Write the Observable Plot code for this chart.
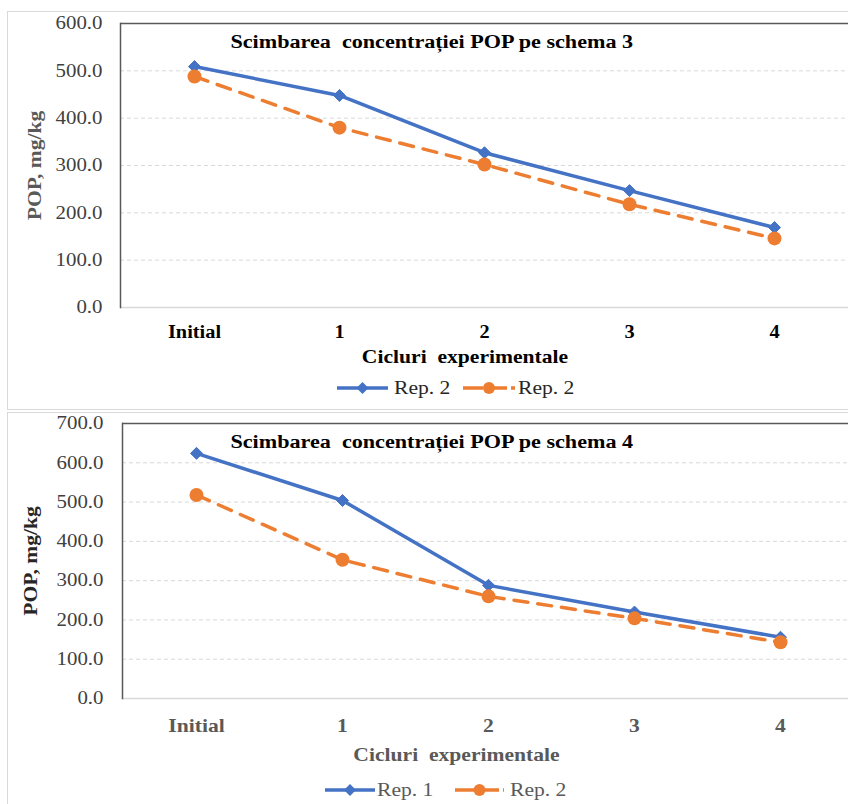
<!DOCTYPE html>
<html><head><meta charset="utf-8">
<script src="https://cdn.jsdelivr.net/npm/d3@7"></script>
<script src="https://cdn.jsdelivr.net/npm/@observablehq/plot@0.6"></script>
<style>
body{margin:0;background:#fff;}
#page{position:relative;width:848px;height:804px;overflow:hidden;font-family:"Liberation Serif","Times New Roman",serif;}
.box{position:absolute;left:7px;width:860px;border:1px solid #d9d9d9;box-sizing:border-box;}
.chart{position:absolute;left:0;}
.chart svg{white-space:pre;}
.legend{position:absolute;display:flex;align-items:center;height:20px;font-size:18px;}
.legend .lab{display:inline-block;transform:scaleX(1.2);transform-origin:left center;white-space:pre;}
</style></head><body><div id="page"></div>
<script>
// ---- data ----
const cycles = ["Initial", "1", "2", "3", "4"];
const yTitle = "POP, mg/kg";
const xTitle = "Cicluri  experimentale";

const s3Title = "Scimbarea  concentrației POP pe schema 3";
const s3Names = ["Rep. 2", "Rep. 2"];
const s3Rep1 = [509, 448, 327, 247, 169];
const s3Rep2 = [488, 380, 302, 218, 146];
const s3YTicks = [0, 100, 200, 300, 400, 500, 600];

const s4Title = "Scimbarea  concentrației POP pe schema 4";
const s4Names = ["Rep. 1", "Rep. 2"];
const s4Rep1 = [624, 504, 288, 220, 156];
const s4Rep2 = [518, 353, 260, 204, 143];
const s4YTicks = [0, 100, 200, 300, 400, 500, 600, 700];

const BLUE = "#4472C4", ORANGE = "#ED7D31";
const page = document.getElementById("page");

function addBox(top, height) {
  const b = document.createElement("div");
  b.className = "box"; b.style.top = top + "px"; b.style.height = height + "px";
  page.appendChild(b);
}

function chart(cfg) {
  const ymax = cfg.yTicks[cfg.yTicks.length - 1];
  const p = Plot.plot({
    width: 848, height: cfg.height,
    marginTop: cfg.mt, marginBottom: cfg.mb, marginLeft: cfg.ml, marginRight: cfg.mr,
    style: {fontFamily: "Liberation Serif, Times New Roman, serif", background: "transparent", overflow: "visible"},
    x: {type: "point", domain: cycles, padding: 0.5},
    y: {domain: [0, ymax]},
    marks: [
      Plot.ruleY(cfg.yTicks.filter(v => v > 0 && v < ymax), {stroke: "#d9d9d9", strokeWidth: 1, strokeDasharray: "4,3"}),
      Plot.ruleY([0], {stroke: "#d9d9d9", strokeWidth: 1.5}),
      Plot.ruleY([ymax], {stroke: "#595959", strokeWidth: 1.5}),
      Plot.frame({anchor: "left", stroke: "#595959", strokeWidth: 1.5}),
      Plot.axisY({ticks: cfg.yTicks, tickFormat: d => d.toFixed(1), tickSize: 0, tickPadding: cfg.yTickPad,
        fontSize: 18, color: "#404040", label: null}),
      Plot.axisX({tickSize: 0, tickPadding: cfg.xTickPad, fontSize: 18, fontWeight: "bold", color: cfg.xTickColor, label: null}),
      Plot.line(cycles, {x: d => d, y: (d, i) => cfg.rep1[i], stroke: BLUE, strokeWidth: 3.5}),
      Plot.dot(cycles, {x: d => d, y: (d, i) => cfg.rep1[i], symbol: "diamond2", r: 5.4, fill: BLUE, stroke: BLUE, strokeWidth: 1}),
      Plot.line(cycles, {x: d => d, y: (d, i) => cfg.rep2[i], stroke: ORANGE, strokeWidth: 3.5, strokeDasharray: "14,10"}),
      Plot.dot(cycles, {x: d => d, y: (d, i) => cfg.rep2[i], r: 7, fill: ORANGE, stroke: "none"}),
      Plot.text([cfg.title], {text: d => d, frameAnchor: "top-left", dx: cfg.titleDx, dy: cfg.titleDy, textAnchor: "start",
        lineAnchor: "middle", fontSize: 18, fontWeight: "bold", fill: "#000"}),
      Plot.text([yTitle], {text: d => d, frameAnchor: "left", dx: cfg.yTitleDx, rotate: -90, textAnchor: "middle",
        lineAnchor: "middle", fontSize: 18, fontWeight: "bold", fill: cfg.yTitleColor}),
      Plot.text([xTitle], {text: d => d, frameAnchor: "bottom", dx: cfg.xTitleDx, dy: cfg.xTitleDy, textAnchor: "middle",
        lineAnchor: "middle", fontSize: 18, fontWeight: "bold", fill: cfg.xTitleColor})
    ]
  });
  // the reference typeface is wider than Liberation Serif: widen glyphs about each text's anchor
  const byText = new Map([[cfg.title, 1.23], [yTitle, 1.2], [xTitle, 1.2]]);
  const byGroup = {"y-axis tick label": 1.16, "x-axis tick label": cfg.xTickStretch};
  p.querySelectorAll("text").forEach(t => {
    let f = byText.get(t.textContent);
    if (f === undefined) f = byGroup[t.parentNode.getAttribute("aria-label")] || 1;
    t.setAttribute("transform", (t.getAttribute("transform") || "") + ` scale(${f},1)`);
  });
  const wrap = document.createElement("div");
  wrap.className = "chart"; wrap.style.top = cfg.top + "px";
  wrap.appendChild(p);
  page.appendChild(wrap);

  // legend
  const lg = document.createElement("div");
  lg.className = "legend";
  lg.style.left = cfg.legendLeft + "px"; lg.style.top = cfg.legendTop + "px"; lg.style.color = cfg.legendColor;
  const sw = (w, kind) => {
    const ns = "http://www.w3.org/2000/svg";
    const s = document.createElementNS(ns, "svg");
    s.setAttribute("width", w); s.setAttribute("height", 16);
    const l = document.createElementNS(ns, "line");
    l.setAttribute("x1", 0); l.setAttribute("x2", w); l.setAttribute("y1", 8); l.setAttribute("y2", 8);
    l.setAttribute("stroke", kind === 0 ? BLUE : ORANGE); l.setAttribute("stroke-width", 3.5);
    if (kind === 1) l.setAttribute("stroke-dasharray", "20,4");
    s.appendChild(l);
    const c = w / 2;
    if (kind === 0) {
      const pg = document.createElementNS(ns, "polygon");
      pg.setAttribute("points", `${c},2 ${c + 6},8 ${c},14 ${c - 6},8`);
      pg.setAttribute("fill", BLUE); s.appendChild(pg);
    } else {
      const ci = document.createElementNS(ns, "circle");
      ci.setAttribute("cx", c); ci.setAttribute("cy", 8); ci.setAttribute("r", 6);
      ci.setAttribute("fill", ORANGE); s.appendChild(ci);
    }
    return s;
  };
  cfg.names.forEach((n, k) => {
    const s = sw(cfg.legendSw[k], k);
    s.style.marginLeft = cfg.legendGaps[k * 2] + "px";
    lg.appendChild(s);
    const sp = document.createElement("span");
    sp.className = "lab"; sp.textContent = n;
    sp.style.marginLeft = cfg.legendGaps[k * 2 + 1] + "px";
    sp.style.width = "58px";
    lg.appendChild(sp);
  });
  page.appendChild(lg);
}

addBox(11, 399);
addBox(412, 400);

chart({
  top: 0, height: 370, mt: 23, mb: 63, ml: 120, mr: 0,
  yTicks: s3YTicks, rep1: s3Rep1, rep2: s3Rep2, names: s3Names, title: s3Title,
  xTickPad: 18, yTickPad: 18, xTickColor: "#000", xTickStretch: 1.13,
  yTitleColor: "#595959", yTitleDx: -85,
  titleDx: 110, titleDy: 19, xTitleDx: -19.5, xTitleDy: 50, xTitleColor: "#000",
  legendLeft: 337, legendTop: 378, legendColor: "#262626", legendSw: [51, 52], legendGaps: [0, 6, 11, 3]
});

chart({
  top: 405, height: 365, mt: 18, mb: 72, ml: 122, mr: -6,
  yTicks: s4YTicks, rep1: s4Rep1, rep2: s4Rep2, names: s4Names, title: s4Title,
  xTickPad: 21, yTickPad: 19, xTickColor: "#595959", xTickStretch: 1.2,
  yTitleColor: "#262626", yTitleDx: -91,
  titleDx: 108, titleDy: 19, xTitleDx: -32, xTitleDy: 57, xTitleColor: "#595959",
  legendLeft: 325, legendTop: 780, legendColor: "#595959", legendSw: [50, 49], legendGaps: [0, 2, 20, 6]
});
</script>
</body></html>
